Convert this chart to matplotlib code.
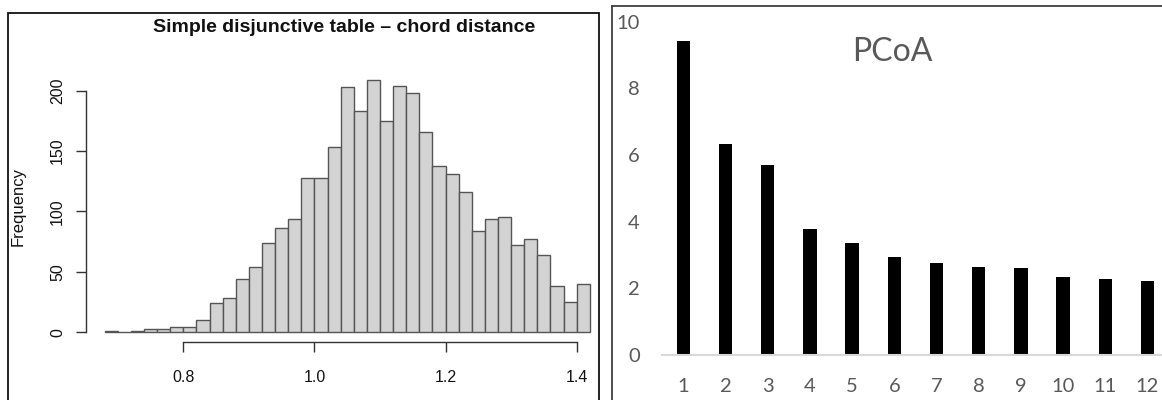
import matplotlib
matplotlib.use("Agg")
import matplotlib.pyplot as plt
import numpy as np
from matplotlib.patches import Rectangle
from matplotlib.lines import Line2D

# ---- data -------------------------------------------------------------
# Histogram of chord distances (bin width 0.02, from 0.68 to 1.42)
bin_start = 0.68
bin_width = 0.02
hist_counts = [1, 0, 1, 3, 3, 4, 4, 10, 24, 28, 44, 54, 74, 86, 94,
               128, 128, 153, 203, 183, 209, 175, 204, 198, 166, 138,
               131, 116, 84, 94, 95, 72, 77, 64, 38, 25, 40]
hist_xticks = [0.8, 1.0, 1.2, 1.4]
hist_xlabels = ["0.8", "1.0", "1.2", "1.4"]
hist_yticks = [0, 50, 100, 150, 200]
hist_title = "Simple disjunctive table \u2013 chord distance"
hist_ylabel = "Frequency"

# PCoA eigenvalues
pcoa_axes = ["1", "2", "3", "4", "5", "6", "7", "8", "9", "10", "11", "12"]
pcoa_values = [9.43, 6.33, 5.69, 3.77, 3.35, 2.93, 2.76, 2.64, 2.62, 2.35, 2.27, 2.22]
pcoa_yticks = [0, 2, 4, 6, 8, 10]
pcoa_title = "PCoA"

# ---- figure -----------------------------------------------------------
W, H = 1162, 400
fig = plt.figure(figsize=(W / 100, H / 100), dpi=100)


def px_box(x0, y0, x1, y1):
    """Convert a pixel box (top-left origin) to figure fractions."""
    return [x0 / W, 1 - y1 / H, (x1 - x0) / W, (y1 - y0) / H]


# ---- left panel: histogram --------------------------------------------
arial = "Liberation Sans"
edges = bin_start + bin_width * np.arange(len(hist_counts) + 1)

axL = fig.add_axes(px_box(86, 69.7, 597, 342.3))
axL.bar(edges[:-1], hist_counts, width=bin_width, align="edge",
        color="#d3d3d3", edgecolor="#555555", linewidth=1.0)
axL.set_xlim(0.8 + (86 - 183.3) / 655.7, 0.8 + (597 - 183.3) / 655.7)
axL.set_ylim(-8.4, 217.4)
for s in ("top", "right"):
    axL.spines[s].set_visible(False)
axL.spines["left"].set_bounds(0, 200)
axL.spines["bottom"].set_bounds(0.8, 1.4)
for s in ("left", "bottom"):
    axL.spines[s].set_color("#333333")
    axL.spines[s].set_linewidth(1.0)
axL.set_xticks(hist_xticks)
axL.set_xticklabels(hist_xlabels)
axL.set_yticks(hist_yticks)
axL.set_yticklabels([str(v) for v in hist_yticks], rotation=90, va="center")
axL.tick_params(axis="both", length=7, width=1.0, color="#333333",
                labelsize=11.5, labelcolor="#111111")
axL.tick_params(axis="x", pad=13)
axL.tick_params(axis="y", pad=8)
for lab in axL.get_xticklabels() + axL.get_yticklabels():
    lab.set_fontfamily(arial)
axL.patch.set_visible(False)

fig.text(344 / W, 1 - 28 / H, hist_title, ha="center", va="center",
         fontsize=14, fontweight="bold", family=arial, color="#111111")
fig.text(18 / W, 1 - 206 / H, hist_ylabel, ha="center", va="center",
         rotation=90, fontsize=12, family=arial, color="#111111")

# frame round the histogram
fig.add_artist(Rectangle((7.5 / W, -0.01), (598.5 - 7.5) / W, 1.01 - 13.3 / H,
                         transform=fig.transFigure, fill=False,
                         edgecolor="#111111", linewidth=1.3))

# ---- right panel: PCoA eigenvalues -----------------------------------
calib = "Lato"
grey_text = "#595959"
xpos = np.arange(len(pcoa_values))

axR = fig.add_axes(px_box(662.2, 21.7, 1168.6, 355))
axR.bar(xpos, pcoa_values, width=0.315, color="black")
axR.set_xlim(-0.5, 11.5)
axR.set_ylim(0, 10)
for s in ("top", "right", "left"):
    axR.spines[s].set_visible(False)
axR.spines["bottom"].set_color("#d9d9d9")
axR.spines["bottom"].set_linewidth(1.5)
axR.set_xticks(xpos)
axR.set_xticklabels(pcoa_axes)
axR.set_yticks(pcoa_yticks)
axR.tick_params(axis="both", length=0, labelsize=14.5, labelcolor=grey_text)
axR.tick_params(axis="x", pad=16.5)
axR.tick_params(axis="y", pad=16)
for lab in axR.get_xticklabels() + axR.get_yticklabels():
    lab.set_fontfamily(calib)
axR.patch.set_visible(False)

fig.text(892 / W, 1 - 52 / H, pcoa_title, ha="center", va="center",
         fontsize=23, family=calib, color=grey_text)

# frame edges of the PCoA chart
fig.add_artist(Line2D([611.7 / W, 611.7 / W], [0, 1 - 6 / H],
                      transform=fig.transFigure, color="#404040", linewidth=1.3))
fig.add_artist(Line2D([611.7 / W, 1.0], [1 - 6 / H, 1 - 6 / H],
                      transform=fig.transFigure, color="#404040", linewidth=1.3))

fig.savefig("out.png", dpi=100)
